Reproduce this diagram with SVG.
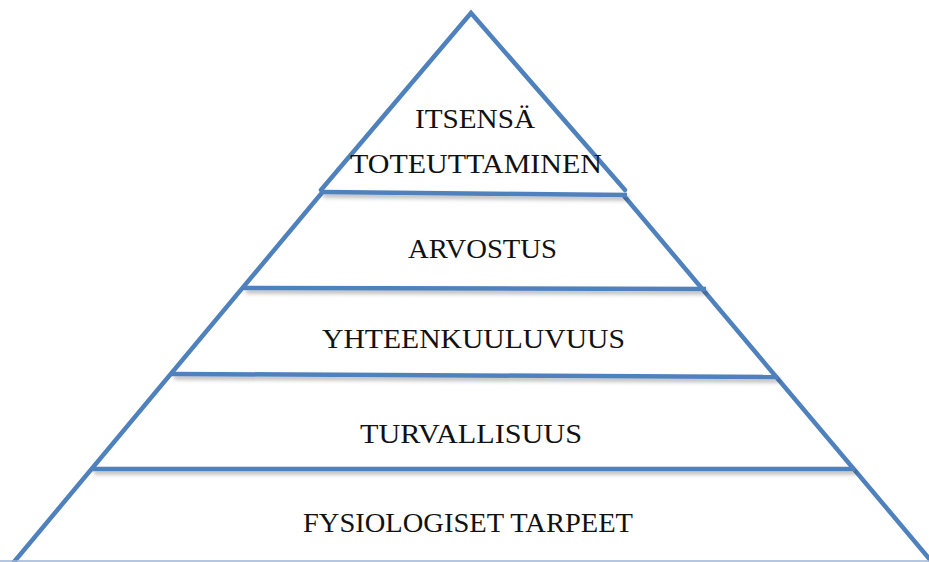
<svg xmlns="http://www.w3.org/2000/svg" width="929" height="562" viewBox="0 0 929 562">
<defs>
<filter id="sh" filterUnits="userSpaceOnUse" x="0" y="0" width="929" height="562">
<feDropShadow dx="2" dy="3" stdDeviation="2" flood-color="#000" flood-opacity="0.3"/>
</filter>
</defs>
<style>
.ln{stroke:#4f81bd;stroke-width:4.5;fill:none;stroke-linecap:round}
.hl{stroke:#4f81bd;stroke-width:4.5;fill:none;filter:url(#sh)}
.t{font-family:"Liberation Serif","DejaVu Serif",serif;font-size:28px;fill:#111}
</style>
<rect width="929" height="562" fill="#fff"/>
<g id="connectors">
<line class="ln" x1="471" y1="14" x2="14" y2="562"/>
<line class="ln" x1="471" y1="14" x2="932" y2="562"/>
<line x1="0" y1="561" x2="929" y2="561" stroke="#9db5d6" stroke-width="1.5"/>
</g>
<g id="tier-top">
<polygon points="471,13 321,191 627,193" fill="#fff" stroke="none"/>
<path class="ln" d="M321,190 L471,13 L625,190"/>
<line class="hl" x1="321" y1="192" x2="627" y2="195"/>
<text class="t" x="475" y="128" text-anchor="middle" textLength="120" lengthAdjust="spacingAndGlyphs">ITSENSÄ</text>
<text class="t" x="476" y="173" text-anchor="middle" textLength="252" lengthAdjust="spacingAndGlyphs">TOTEUTTAMINEN</text>
</g>
<g id="tier-arvostus">
<line class="hl" x1="244" y1="288" x2="706" y2="289"/>
<text class="t" x="482.5" y="258" text-anchor="middle" textLength="149" lengthAdjust="spacingAndGlyphs">ARVOSTUS</text>
</g>
<g id="tier-yhteenkuuluvuus">
<line class="hl" x1="172" y1="374" x2="778" y2="377"/>
<text class="t" x="473.5" y="348" text-anchor="middle" textLength="303" lengthAdjust="spacingAndGlyphs">YHTEENKUULUVUUS</text>
</g>
<g id="tier-turvallisuus">
<line class="hl" x1="92" y1="469" x2="855" y2="469"/>
<text class="t" x="471" y="443" text-anchor="middle" textLength="222" lengthAdjust="spacingAndGlyphs">TURVALLISUUS</text>
</g>
<g id="tier-fysiologiset">
<text class="t" x="468" y="532" text-anchor="middle" textLength="330" lengthAdjust="spacingAndGlyphs">FYSIOLOGISET TARPEET</text>
</g>
</svg>
